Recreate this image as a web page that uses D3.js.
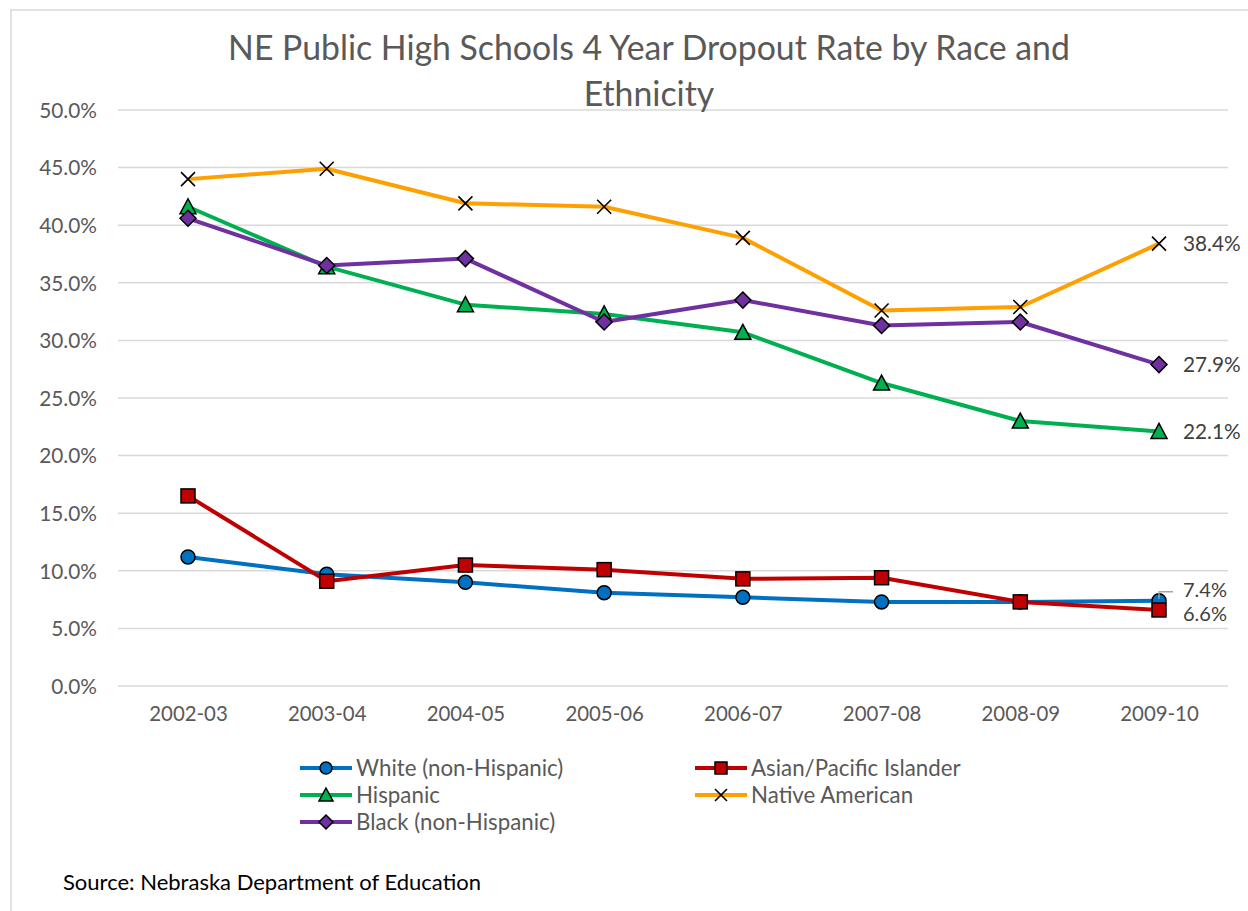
<!DOCTYPE html>
<html>
<head>
<meta charset="utf-8">
<script src="https://cdn.jsdelivr.net/npm/d3@7"></script>
<style>
  body { margin: 0; background: #fff; }
  svg { font-family: Lato, "Open Sans", sans-serif; }
</style>
</head>
<body>
<svg id="chart"></svg>
<script>
const years = ["2002-03", "2003-04", "2004-05", "2005-06", "2006-07", "2007-08", "2008-09", "2009-10"];
const white = [11.2, 9.7, 9.0, 8.1, 7.7, 7.3, 7.3, 7.4];
const asian = [16.5, 9.1, 10.5, 10.1, 9.3, 9.4, 7.3, 6.6];
const hispanic = [41.6, 36.4, 33.1, 32.3, 30.7, 26.3, 23.0, 22.1];
const native = [44.0, 44.9, 41.9, 41.6, 38.9, 32.6, 32.9, 38.4];
const black = [40.6, 36.5, 37.1, 31.6, 33.5, 31.3, 31.6, 27.9];
const yTicks = [0, 5, 10, 15, 20, 25, 30, 35, 40, 45, 50];

const series = [
  { name: "White (non-Hispanic)", values: white, color: "#0070C0", marker: "circle" },
  { name: "Asian/Pacific Islander", values: asian, color: "#C00000", marker: "square" },
  { name: "Hispanic", values: hispanic, color: "#00B050", marker: "triangle" },
  { name: "Native American", values: native, color: "#FFA000", marker: "x" },
  { name: "Black (non-Hispanic)", values: black, color: "#7030A0", marker: "diamond" }
];

const w = 1248, h = 911;
const svg = d3.select("#chart").attr("width", w).attr("height", h);

// outer frame
svg.append("rect")
  .attr("x", 11).attr("y", 10)
  .attr("width", w + 20).attr("height", h + 20)
  .attr("fill", "none").attr("stroke", "#d9d9d9").attr("stroke-width", 1.5);

const plotLeft = 118, plotRight = 1228, plotTop = 110, plotBottom = 686;

const x = d3.scalePoint().domain(years).range([188, 1159]);
const y = d3.scaleLinear().domain([0, 50]).range([plotBottom, plotTop]);

// gridlines
svg.append("g")
  .selectAll("line")
  .data(yTicks)
  .join("line")
  .attr("x1", plotLeft).attr("x2", plotRight)
  .attr("y1", d => y(d)).attr("y2", d => y(d))
  .attr("stroke", "#d9d9d9").attr("stroke-width", 1.5);

// y axis labels
const yAxis = d3.axisLeft(y).tickValues(yTicks).tickSize(0).tickPadding(0)
  .tickFormat(d => d.toFixed(1) + "%");
const gy = svg.append("g").attr("transform", `translate(97,0)`).call(yAxis);
gy.select(".domain").remove();
gy.selectAll("text").attr("fill", "#595959").attr("font-size", 20.8)
  .attr("font-family", "Lato, sans-serif").attr("dy", "0.35em");

// x axis labels
const xAxis = d3.axisBottom(x).tickSize(0).tickPadding(0);
const gx = svg.append("g").attr("transform", `translate(0,${plotBottom + 21})`).call(xAxis);
gx.select(".domain").remove();
gx.selectAll("text").attr("fill", "#595959").attr("font-size", 20.4)
  .attr("font-family", "Lato, sans-serif").attr("dy", "0.71em");

// title
const title = svg.append("text")
  .attr("text-anchor", "middle")
  .attr("fill", "#595959")
  .attr("font-size", 33.8);
title.append("tspan").attr("x", 649).attr("y", 60).text("NE Public High Schools 4 Year Dropout Rate by Race and");
title.append("tspan").attr("x", 649).attr("y", 106).text("Ethnicity");

const line = d3.line().x((d, i) => x(years[i])).y(d => y(d));

function drawMarker(g, type, color, size) {
  const s = size;
  if (type === "circle") {
    g.append("circle").attr("r", s / 2).attr("fill", color).attr("stroke", "#000").attr("stroke-width", 1.5);
  } else if (type === "square") {
    g.append("rect").attr("x", -s / 2).attr("y", -s / 2).attr("width", s).attr("height", s)
      .attr("fill", color).attr("stroke", "#000").attr("stroke-width", 1.5);
  } else if (type === "triangle") {
    g.append("path").attr("d", `M0,${-s / 2 - 1}L${s / 2 + 1},${s / 2}L${-s / 2 - 1},${s / 2}Z`)
      .attr("fill", color).attr("stroke", "#000").attr("stroke-width", 1.5);
  } else if (type === "diamond") {
    const r = s / 2 + 1;
    g.append("path").attr("d", `M0,${-r}L${r},0L0,${r}L${-r},0Z`)
      .attr("fill", color).attr("stroke", "#000").attr("stroke-width", 1.5);
  } else if (type === "x") {
    const r = s / 2;
    g.append("path").attr("d", `M${-r},${-r}L${r},${r}M${-r},${r}L${r},${-r}`)
      .attr("stroke", "#000").attr("stroke-width", 1.6).attr("fill", "none");
  }
}

series.forEach(s => {
  svg.append("path")
    .datum(s.values)
    .attr("d", line)
    .attr("fill", "none")
    .attr("stroke", s.color)
    .attr("stroke-width", 4)
    .attr("stroke-linejoin", "round");
  s.values.forEach((v, i) => {
    const g = svg.append("g").attr("transform", `translate(${x(years[i])},${y(v)})`);
    drawMarker(g, s.marker, s.color, 14);
  });
});

// end labels
const lastIdx = years.length - 1;
const endLabels = [
  { v: native[lastIdx], dy: 0, fs: 20.8 },
  { v: black[lastIdx], dy: 0, fs: 20.8 },
  { v: hispanic[lastIdx], dy: 0, fs: 20.8 },
  { v: white[lastIdx], dy: -11, fs: 20 },
  { v: asian[lastIdx], dy: 4, fs: 20 }
];
// leader line for the white label
const lx0 = x(years[lastIdx]), ly0 = y(white[lastIdx]);
svg.append("path")
  .attr("d", `M${lx0},${ly0 - 2}L${lx0},${ly0 - 9}L${lx0 + 14},${ly0 - 9}`)
  .attr("fill", "none").attr("stroke", "#a6a6a6").attr("stroke-width", 1.3);

svg.append("g").selectAll("text")
  .data(endLabels)
  .join("text")
  .attr("x", lx0 + 24)
  .attr("y", d => y(d.v) + d.dy)
  .attr("dy", "0.35em")
  .attr("fill", "#404040")
  .attr("font-size", d => d.fs)
  .text(d => d.v.toFixed(1) + "%");

// legend
const legendItems = [
  { s: series[0], col: 0, row: 0 },
  { s: series[1], col: 1, row: 0 },
  { s: series[2], col: 0, row: 1 },
  { s: series[3], col: 1, row: 1 },
  { s: series[4], col: 0, row: 2 }
];
const colX = [300, 695];
const rowY = [768, 795, 822];
legendItems.forEach(it => {
  const lx = colX[it.col], ly = rowY[it.row];
  const g = svg.append("g").attr("transform", `translate(${lx},${ly})`);
  g.append("line").attr("x1", 0).attr("x2", 52).attr("y1", 0).attr("y2", 0)
    .attr("stroke", it.s.color).attr("stroke-width", 4);
  const mg = g.append("g").attr("transform", "translate(26,0)");
  drawMarker(mg, it.s.marker, it.s.color, 12);
  g.append("text").attr("x", 56).attr("y", 0).attr("dy", "0.35em")
    .attr("fill", "#595959").attr("font-size", 22.3).text(it.s.name);
});

// source
svg.append("text")
  .attr("x", 63).attr("y", 882).attr("dy", "0.35em")
  .attr("fill", "#000").attr("font-size", 22)
  .text("Source: Nebraska Department of Education");
</script>
</body>
</html>
